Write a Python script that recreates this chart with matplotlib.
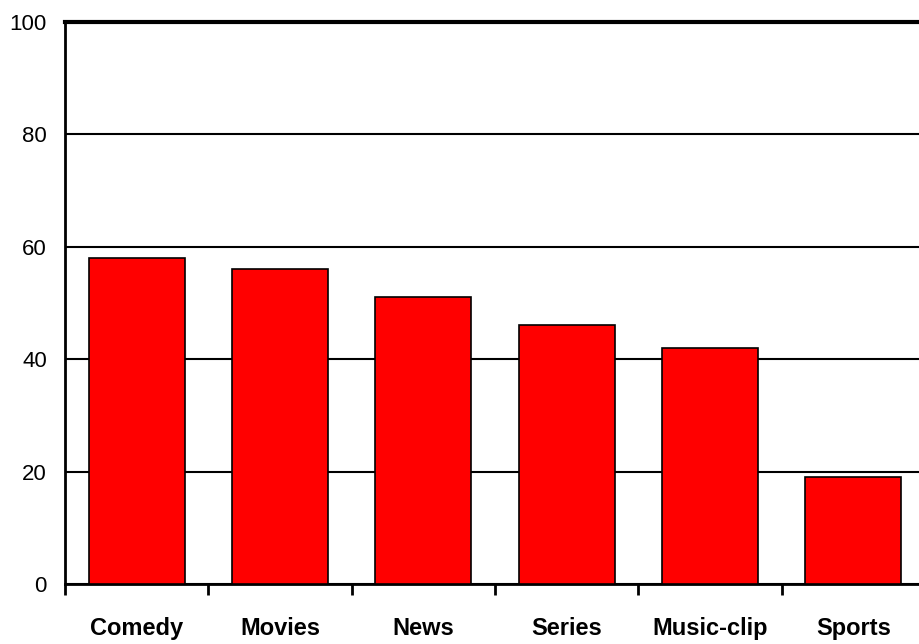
import matplotlib
matplotlib.use("Agg")
import matplotlib.pyplot as plt
import numpy as np

categories = ["Comedy", "Movies", "News", "Series", "Music-clip", "Sports"]
values = [58, 56, 51, 46, 42, 19]
yticks = [0, 20, 40, 60, 80, 100]

plt.rcParams['font.family'] = ['Liberation Sans', 'DejaVu Sans']

fig = plt.figure(figsize=(9.2, 6.44), dpi=100)
W, H = 920, 644
left, right, top, bottom = 65, 925, 22, 584
ax = fig.add_axes([left / W, (H - bottom) / H, (right - left) / W, (bottom - top) / H])

x = np.arange(len(categories))
ax.bar(x, values, width=0.67, color="#ff0000", edgecolor="black", linewidth=1.2, zorder=3)
ax.set_xlim(-0.5, len(categories) - 0.5)
ax.set_ylim(0, 100)
ax.set_yticks(yticks)
ax.set_yticklabels([str(v) for v in yticks], fontsize=16)
ax.yaxis.grid(True, color="black", linewidth=1.5, zorder=1)
ax.tick_params(axis='y', length=0, pad=13)

ax.set_xticks(x)
ax.set_xticklabels(categories, fontsize=17, fontweight='bold')
ax.set_xticks(np.arange(len(categories) + 1) - 0.5, minor=True)
ax.tick_params(axis='x', which='major', length=0, pad=24)
ax.tick_params(axis='x', which='minor', length=8, width=2, direction='out')

ax.spines['top'].set_linewidth(3)
ax.spines['left'].set_linewidth(2)
ax.spines['bottom'].set_linewidth(2)
ax.spines['right'].set_visible(False)
ax.set_axisbelow(True)

fig.savefig("out.png", dpi=100)
